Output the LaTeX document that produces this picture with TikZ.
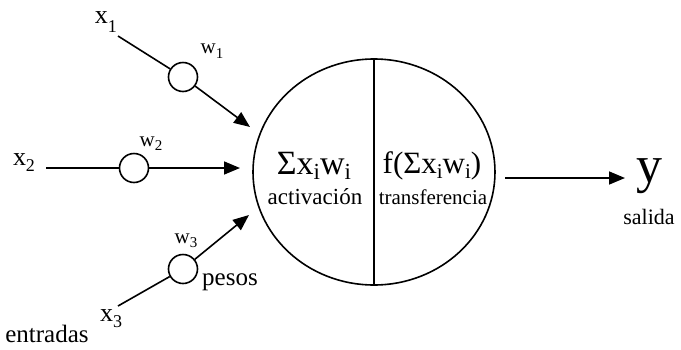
\documentclass[tikz,border=0pt]{standalone}
\usepackage{fontspec}
\setmainfont{Liberation Serif}
\usetikzlibrary{arrows.meta,shapes.geometric}
\newcommand\fsz[1]{\fontsize{#1}{#1}\selectfont}
\begin{document}
\begin{tikzpicture}[x=1pt,y=-1pt,
  lbl/.style={inner sep=0pt,anchor=center},
  wt/.style={circle,draw,line width=1.6pt,minimum size=29pt,inner sep=0pt},
  conn/.style={line width=1.6pt},
  arr/.style={line width=1.6pt,-{Triangle[length=16pt,width=13pt]}}]
\useasboundingbox (0,0) rectangle (681,349);
\fill[white] (0,0) rectangle (681,349);
% neuron
\node[ellipse,draw,line width=1.6pt,minimum width=242pt,minimum height=226pt,inner sep=0pt] (neuron) at (374,172) {};
\draw[line width=1.6pt] (neuron.north) -- (neuron.south);
\node[lbl] (sum) at (314,166) {\fsz{34}Σx\raisebox{-5pt}{\fsz{23}i}w\raisebox{-5pt}{\fsz{23}i}};
\node[lbl] (act) at (315,197) {\fsz{23}activación};
\node[lbl] (fsum) at (432,166) {\fsz{31}f(Σx\raisebox{-5pt}{\fsz{21}i}w\raisebox{-5pt}{\fsz{21}i})};
\node[lbl] (trans) at (433,197) {\fsz{21}transferencia};
% inputs
\node[lbl,anchor=south east] (x1) at (117,33) {\fsz{26}x\raisebox{-9pt}{\fsz{18}1}};
\coordinate (s1) at (118,36);
\node[wt] (c1) at (183,77) {};
\coordinate (t1) at (250,127);
\node[lbl] (w1) at (212,51) {\fsz{21}w\raisebox{-5pt}{\fsz{15}1}};
\draw[conn] (s1) -- (c1);
\draw[arr] (c1) -- (t1);

\node[lbl] (x2) at (24,163) {\fsz{26}x\raisebox{-6pt}{\fsz{18}2}};
\coordinate (s2) at (46,168);
\node[wt] (c2) at (134,168) {};
\coordinate (t2) at (240,168);
\node[lbl] (w2) at (151,144) {\fsz{21}w\raisebox{-4pt}{\fsz{15}2}};
\draw[conn] (s2) -- (c2);
\draw[arr] (c2) -- (t2);

\node[lbl] (x3) at (111,319) {\fsz{26}x\raisebox{-6pt}{\fsz{18}3}};
\coordinate (s3) at (118,306);
\node[wt] (c3) at (183,269) {};
\coordinate (t3) at (249,215);
\node[lbl] (w3) at (186,241) {\fsz{21}w\raisebox{-4pt}{\fsz{15}3}};
\draw[conn] (s3) -- (c3);
\draw[arr] (c3) -- (t3);

\node[lbl] (pesos) at (230,282) {\fsz{25}pesos};
\node[lbl] (entr) at (47,334) {\fsz{25}entradas};
% output
\coordinate (so) at (505,178);
\coordinate (to) at (625,178);
\draw[arr] (so) -- (to);
\node[lbl] (y) at (649,176) {\fsz{52}y};
\node[lbl] (sal) at (649,217) {\fsz{22}salida};
\end{tikzpicture}
\end{document}
